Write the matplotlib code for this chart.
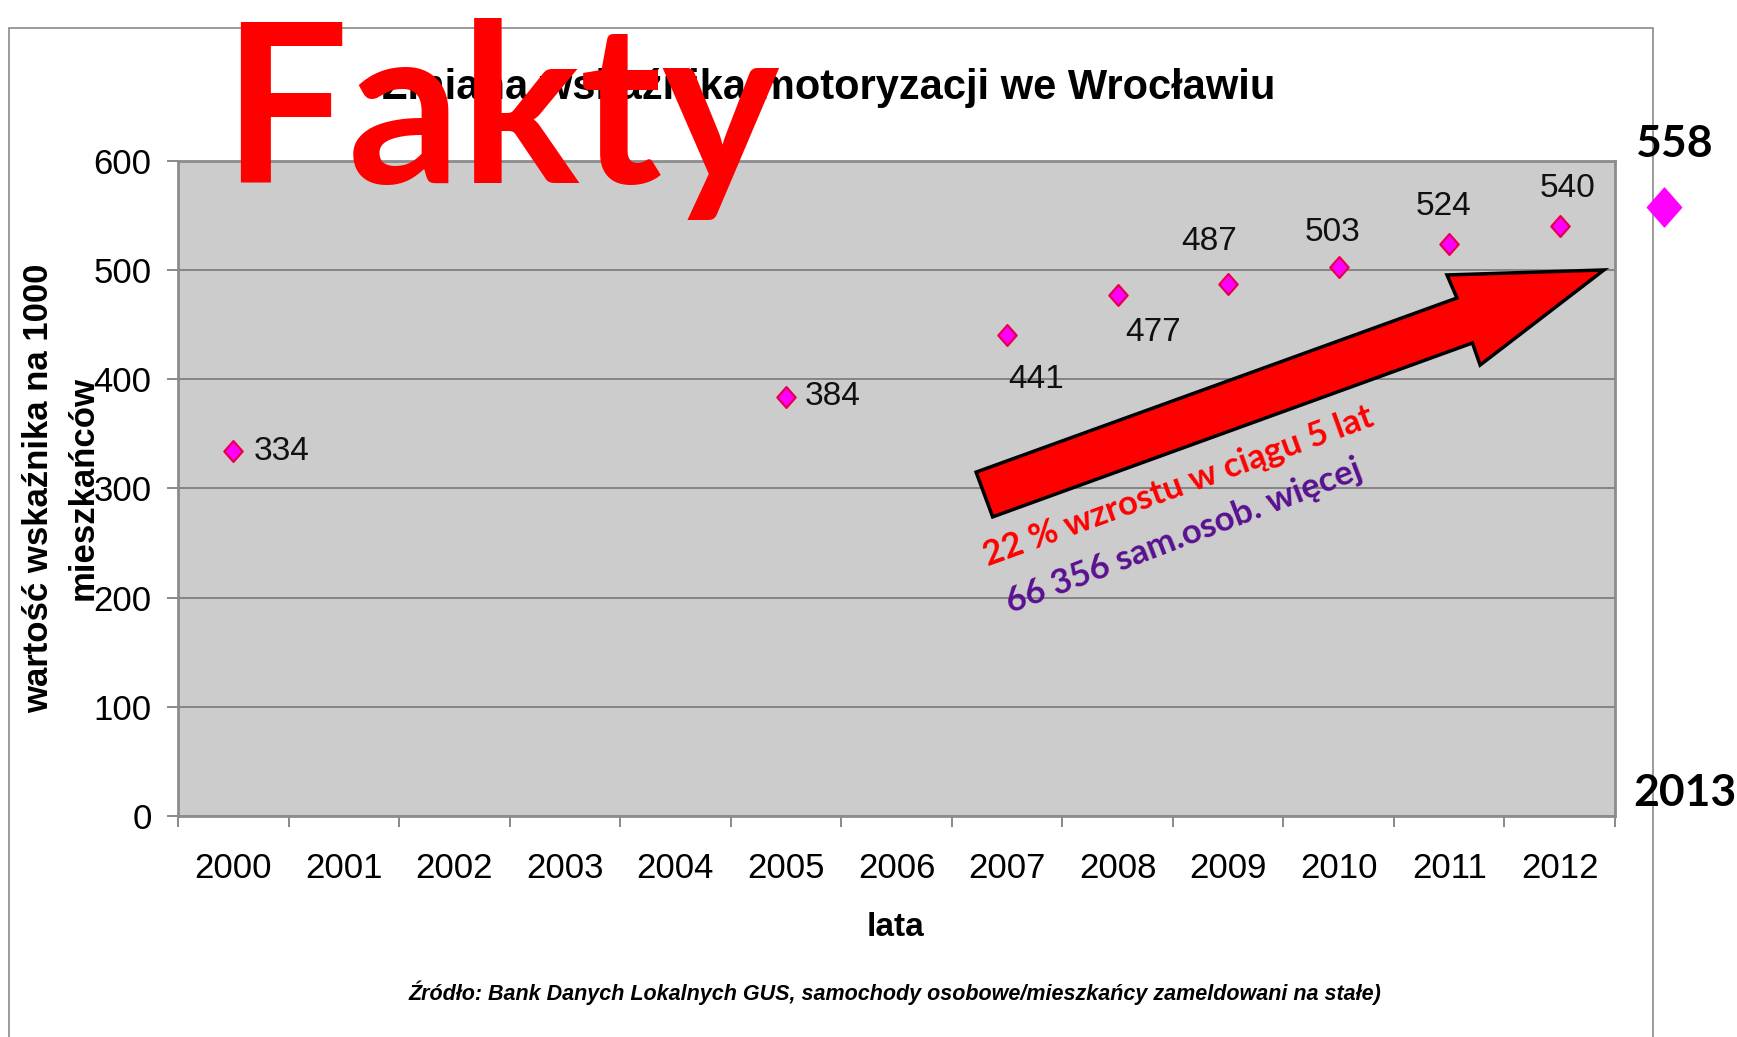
import matplotlib
matplotlib.use('Agg')
import matplotlib.pyplot as plt
from matplotlib.patches import Polygon, Rectangle
from matplotlib.path import Path
import numpy as np

# ---------------- data ----------------
years = ['2000', '2001', '2002', '2003', '2004', '2005', '2006',
         '2007', '2008', '2009', '2010', '2011', '2012']
point_years = ['2000', '2005', '2007', '2008', '2009', '2010', '2011', '2012']
values = [334, 384, 441, 477, 487, 503, 524, 540]
forecast_year = '2013'
forecast_value = 558
title = 'Zmiana wskaźnika motoryzacji we Wrocławiu'
ylabel_lines = ['wartość wskaźnika na 1000', 'mieszkańców']
xlabel = 'lata'
source = 'Źródło: Bank Danych Lokalnych GUS, samochody osobowe/mieszkańcy zameldowani na stałe)'
note1 = '22 % wzrostu w ciągu 5 lat'
note2 = '66 356 sam.osob. więcej'
stamp = 'Fakty'

# ---------------- layout helpers ----------------
W, H = 1737, 1037
fig = plt.figure(figsize=(W / 100, H / 100), dpi=100)
fig.patch.set_facecolor('white')

def fx(px):
    return px / W

def fy(py):
    return 1 - py / H

SANS = ['Liberation Sans', 'DejaVu Sans']
CAL = ['Lato', 'Open Sans', 'DejaVu Sans']

# outer chart frame
fig.add_artist(Rectangle((fx(9), -0.05), fx(1653) - fx(9), fy(28) + 0.05,
                         transform=fig.transFigure, fill=False,
                         ec='#8a8a8a', lw=1.2, zorder=-5))

ax = fig.add_axes([fx(178), fy(816), (1615 - 178) / W, (816 - 161) / H])
ax.set_facecolor('#cccccc')
ax.set_xlim(-0.5, len(years) - 0.5)
ax.set_ylim(0, 600)
ax.set_yticks(range(0, 601, 100))
ax.set_xticks(range(len(years)))
ax.set_xticklabels(years)
ax.set_xticks(np.arange(-0.5, len(years), 1), minor=True)
ax.tick_params(axis='x', which='major', length=0, pad=26, labelsize=25)
ax.tick_params(axis='x', which='minor', length=8, color='#808080', width=1.3)
ax.tick_params(axis='y', length=8, color='#808080', width=1.3, pad=11, labelsize=25)
for lab in ax.get_xticklabels() + ax.get_yticklabels():
    lab.set_fontfamily(SANS)
ax.yaxis.grid(True, color='#858585', lw=1.4)
ax.set_axisbelow(True)
for s in ax.spines.values():
    s.set_color('#8c8c8c')
    s.set_linewidth(2)

# diamond marker (slightly taller than wide)
diamond = Path([(0, 1), (0.88, 0), (0, -1), (-0.88, 0), (0, 1)],
               [Path.MOVETO, Path.LINETO, Path.LINETO, Path.LINETO, Path.CLOSEPOLY])

xs = [years.index(y) for y in point_years]
ax.plot(xs, values, linestyle='none', marker=diamond, ms=15,
        mfc='#ff00ff', mec='#e6004c', mew=1.6, zorder=5)

# data labels (offsets in pixels)
offsets = {
    '2000': (20, 0, 'left'),
    '2005': (19, 0, 'left'),
    '2007': (29, -45, 'center'),
    '2008': (35, -37, 'center'),
    '2009': (-19, 43, 'center'),
    '2010': (-6, 34, 'center'),
    '2011': (-6, 37, 'center'),
    '2012': (8, 38, 'center'),
}
for y, v in zip(point_years, values):
    dx, dy, ha = offsets[y]
    ax.annotate(str(v), (years.index(y), v), xytext=(dx, dy),
                textcoords='offset pixels', ha=ha, va='center',
                fontsize=24, fontfamily=SANS, color='#111111', zorder=6)

# forecast point for 2013 outside the axes
fx_pos = len(years) - 0.06
ax.plot([fx_pos], [forecast_value], linestyle='none', marker=diamond, ms=28,
        mfc='#ff00ff', mec='#ff00ff', clip_on=False, zorder=6)
fig.text(fx(1674), fy(157), str(forecast_value), ha='center', va='baseline',
         fontsize=32, fontfamily=CAL, fontweight='bold')
fig.text(fx(1685), fy(806), forecast_year, ha='center', va='baseline',
         fontsize=32, fontfamily=CAL, fontweight='bold')

# big red arrow
arrow_pts = [(6.72, 315), (11.07, 474.5), (10.98, 495.6), (12.40, 500.2),
             (11.28, 413.1), (11.21, 433.3), (6.87, 274)]
ax.add_patch(Polygon(arrow_pts, closed=True, fc='#ff0000', ec='black',
                     lw=2.5, zorder=4, joinstyle='miter'))

ax.text(8.55, 302, note1, rotation=20, rotation_mode='anchor', ha='center',
        va='center', color='#ff0000', fontsize=25, fontfamily=CAL,
        fontweight='bold', zorder=7)
ax.text(8.6, 256, note2, rotation=21, rotation_mode='anchor', ha='center',
        va='center', color='#5a1090', fontsize=25, fontfamily=CAL,
        fontweight='bold', zorder=7)

# axis labels, title, source
fig.text(fx(39), fy(488), ylabel_lines[0], rotation=90, ha='center', va='center',
         fontsize=25, fontweight='bold', fontfamily=SANS)
fig.text(fx(83), fy(488), ylabel_lines[1], rotation=90, ha='center', va='center',
         fontsize=25, fontweight='bold', fontfamily=SANS)
fig.text(fx(895), fy(936), xlabel, ha='center', va='baseline',
         fontsize=24, fontweight='bold', fontfamily=SANS)
fig.text(fx(829), fy(99), title, ha='center', va='baseline',
         fontsize=30, fontweight='bold', fontfamily=SANS)
fig.text(fx(895), fy(1000), source, ha='center', va='baseline',
         fontsize=15.5, fontweight='bold', fontstyle='italic', fontfamily=SANS)

# big stamp
fig.text(fx(222), fy(183), stamp, ha='left', va='baseline', fontsize=160,
         color='#ff0000', fontfamily=CAL, fontweight='bold', zorder=20)

fig.savefig('out.png', dpi=100)
